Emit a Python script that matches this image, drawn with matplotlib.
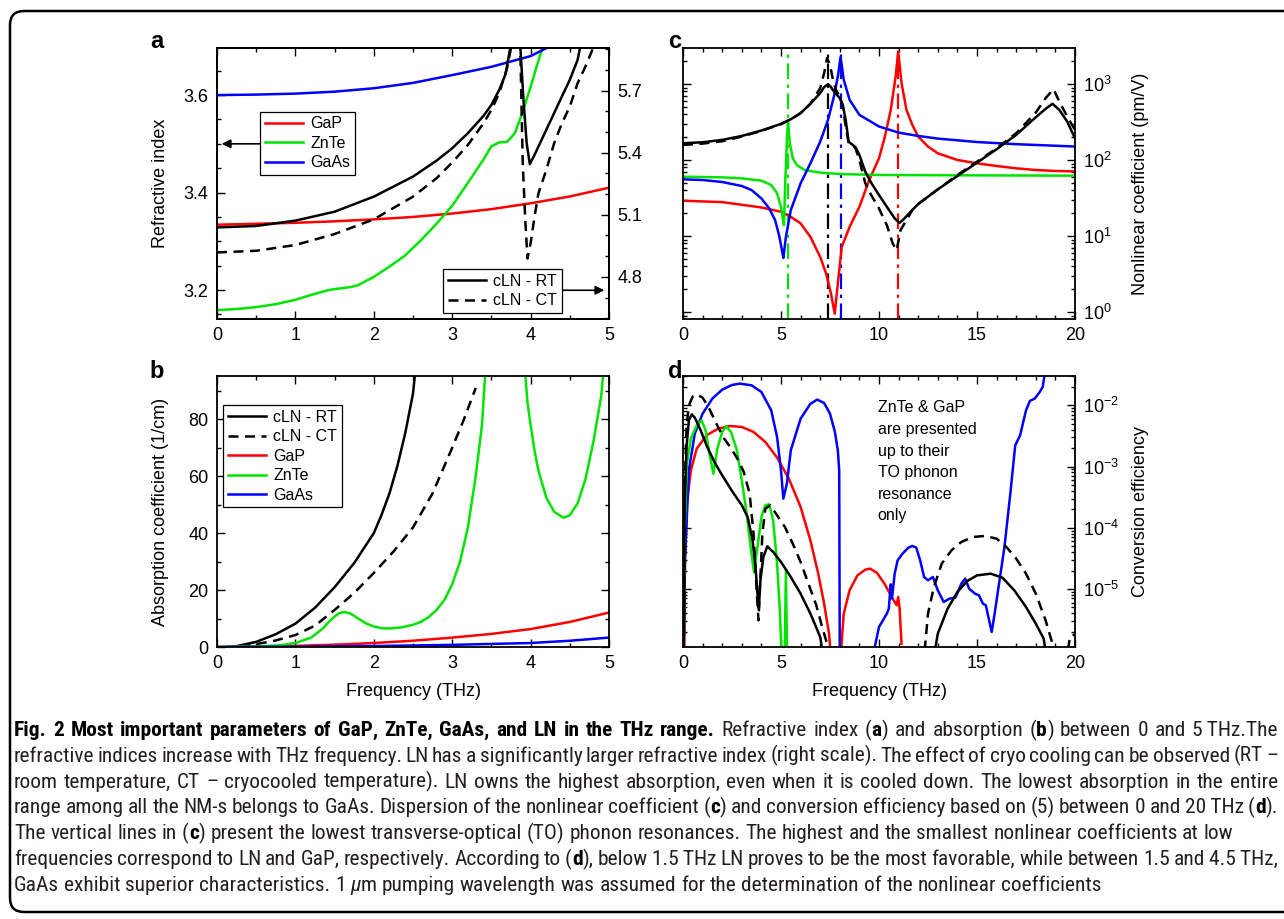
import matplotlib
matplotlib.use("Agg")
import matplotlib.pyplot as plt
from matplotlib.ticker import MultipleLocator, FormatStrFormatter
from matplotlib.patches import FancyBboxPatch
from matplotlib.transforms import IdentityTransform
from matplotlib.font_manager import FontProperties, fontManager, weight_dict

# ---------------------------------------------------------------- data
# (a) refractive index, 0-5 THz (left axis: GaP, ZnTe, GaAs; right axis: cLN)
GAP_A_X = [0, 0.5, 1, 1.5, 2, 2.5, 3, 3.5, 4, 4.5, 5]
GAP_A_Y = [3.334, 3.336, 3.338, 3.341, 3.345, 3.350, 3.357, 3.366, 3.378, 3.392, 3.410]
GAAS_A_X = [0, 0.5, 1, 1.5, 2, 2.5, 3, 3.5, 4, 4.21]
GAAS_A_Y = [3.600, 3.601, 3.603, 3.607, 3.614, 3.625, 3.641, 3.658, 3.680, 3.697]
ZNTE_A_X = [0, 0.25, 0.5, 0.75, 1, 1.2, 1.4, 1.5, 1.6, 1.7, 1.8, 2.0, 2.2, 2.4, 2.6, 2.8,
            3.0, 3.2, 3.4, 3.5, 3.6, 3.7, 3.8, 3.9, 4.0, 4.1, 4.15]
ZNTE_A_Y = [3.159, 3.161, 3.165, 3.171, 3.180, 3.190, 3.199, 3.202, 3.204, 3.206, 3.210,
            3.227, 3.248, 3.271, 3.302, 3.336, 3.373, 3.420, 3.468, 3.495, 3.503, 3.504,
            3.522, 3.566, 3.617, 3.671, 3.695]
LN_RT_A_X = [0, 0.5, 1, 1.5, 2, 2.5, 2.8, 3.0, 3.2, 3.4, 3.5, 3.6, 3.68, 3.74, 3.8, 3.84,
             3.87, 3.91, 3.95, 3.99, 4.05, 4.2, 4.4, 4.5, 4.6, 4.63, 4.66]
LN_RT_A_Y = [5.039, 5.046, 5.072, 5.115, 5.188, 5.285, 5.362, 5.422, 5.495, 5.579, 5.632,
             5.705, 5.780, 5.907, 6.050, 6.050, 5.907, 5.650, 5.446, 5.345, 5.390, 5.511,
             5.673, 5.753, 5.850, 5.907, 5.950]
LN_CT_A_X = [0, 0.5, 1, 1.5, 2, 2.5, 2.8, 3.0, 3.2, 3.4, 3.5, 3.6, 3.7, 3.75, 3.8, 3.86,
             3.9, 3.93, 3.96, 4.0, 4.05, 4.1, 4.2, 4.3, 4.4, 4.5, 4.6, 4.7, 4.78, 4.82]
LN_CT_A_Y = [4.918, 4.926, 4.954, 5.007, 5.078, 5.188, 5.277, 5.353, 5.438, 5.543, 5.608,
             5.689, 5.810, 5.907, 6.050, 6.050, 5.349, 5.090, 4.889, 4.962, 5.091, 5.204,
             5.317, 5.446, 5.543, 5.624, 5.737, 5.818, 5.891, 5.950]

# (b) absorption coefficient (1/cm), 0-5 THz
LN_RT_B_X = [0.13, 0.25, 0.5, 0.75, 1.0, 1.25, 1.5, 1.75, 2.0, 2.1, 2.2, 2.3, 2.4, 2.5, 2.53]
LN_RT_B_Y = [0, 0.3, 1.8, 4.5, 8.2, 13.8, 21.0, 29.5, 40.0, 46.5, 54.0, 63.5, 75.0, 89.0, 97.0]
LN_CT_B_X = [0.3, 0.5, 0.75, 1.0, 1.25, 1.5, 1.75, 2.0, 2.25, 2.5, 2.75, 3.0, 3.15, 3.3]
LN_CT_B_Y = [0.2, 1.0, 2.3, 4.2, 7.5, 13.0, 19.0, 26.0, 33.5, 42.0, 54.0, 70.0, 80.0, 91.0]
GAP_B_X = [0, 0.5, 1, 1.5, 2, 2.5, 3, 3.5, 4, 4.5, 5]
GAP_B_Y = [0, 0.15, 0.4, 0.8, 1.4, 2.2, 3.3, 4.6, 6.3, 8.8, 12.1]
GAAS_B_X = [0, 1, 2, 3, 4, 4.5, 5]
GAAS_B_Y = [0, 0.1, 0.35, 0.75, 1.4, 2.2, 3.3]
ZNTE_B_X = [0, 0.5, 0.8, 1.0, 1.2, 1.35, 1.45, 1.55, 1.62, 1.7, 1.8, 1.9, 2.0, 2.1, 2.2,
            2.35, 2.5, 2.6, 2.7, 2.8, 2.9, 3.0, 3.1, 3.2, 3.3, 3.38, 3.43, 3.92, 3.96, 4.0,
            4.05, 4.1, 4.2, 4.3, 4.42, 4.5, 4.6, 4.7, 4.8, 4.9, 4.94]
ZNTE_B_Y = [0, 0.2, 0.6, 1.4, 3.3, 6.5, 9.5, 11.8, 12.3, 11.8, 10.0, 8.3, 7.2, 6.6, 6.5,
            6.9, 7.8, 8.8, 10.5, 13.0, 16.5, 22, 30, 42, 60, 78, 100, 100, 86, 78,
            69, 62, 52.5, 47.5, 45.4, 46.3, 50.5, 59, 72, 88, 100]

# (c) nonlinear coefficient (pm/V), 0-20 THz
GAP_C_X = [0, 2, 4, 5, 5.5, 6, 6.5, 7, 7.3, 7.55, 7.74, 7.9, 8.1, 8.5, 9, 9.5, 10, 10.3,
           10.6, 10.85, 10.98, 11.15, 11.4, 11.7, 12, 12.5, 13, 14, 15, 16, 17, 18, 19, 20]
GAP_C_Y = [29.2, 28.0, 23.8, 20.9, 17.9, 14.7, 9.77, 5.32, 3.21, 1.75, 0.95, 2.37, 7.21,
           13.2, 24.3, 54.7, 105.6, 204, 459, 1264, 2702, 1032, 459, 291, 204, 150.6, 123,
           100.4, 90.7, 83.7, 77.9, 74.1, 72.0, 71.0]
GAAS_C_X = [0, 1, 2, 3, 3.5, 4, 4.4, 4.7, 4.9, 5.05, 5.12, 5.25, 5.5, 6, 6.5, 7, 7.4, 7.7,
            7.9, 8.04, 8.2, 8.5, 9, 10, 11, 12, 13, 15, 17, 20]
GAAS_C_Y = [55.8, 54.7, 51.5, 45.6, 40.3, 31.3, 23.1, 16.2, 10.3, 6.51, 5.16, 9.77, 22.0,
            49.4, 90.7, 175, 339, 688, 1264, 2274, 1142, 622, 394, 277, 230, 208, 192, 173,
            162, 151]
ZNTE_C_X = [0, 2, 3, 4, 4.5, 4.8, 5.0, 5.1, 5.15, 5.22, 5.3, 5.36, 5.45, 5.6, 5.8, 6.2, 7,
            8, 10, 15, 20]
ZNTE_C_Y = [60.5, 59.3, 57.5, 53.6, 47.0, 36.5, 24.3, 16.2, 13.9, 54.7, 184, 332, 167, 106,
            86.3, 74.1, 68.4, 65.6, 63.7, 63.0, 62.4]
LN_RT_C_X = [0, 1, 2, 3, 4, 5, 5.5, 6, 6.5, 7, 7.2, 7.4, 7.55, 7.7, 7.85, 8.0, 8.15, 8.3,
             8.45, 8.6, 8.8, 9.0, 9.3, 9.6, 10, 10.4, 10.8, 11.05, 11.3, 11.7, 12, 13, 14,
             15, 16, 17, 18, 18.5, 18.85, 19.2, 19.6, 20]
LN_RT_C_Y = [166.7, 171.8, 184.5, 208, 245, 300, 345, 415, 551, 762, 914, 1000, 914, 801,
             724, 654, 534, 339, 175, 163, 148, 117, 70.4, 50.4, 34.7, 24.3, 17.1, 14.9,
             17.1, 22.0, 26.4, 41.2, 61.8, 92.6, 139, 215, 367, 473, 551, 459, 322, 194]
LN_CT_C_X = [0, 1, 2, 3, 4, 5, 5.5, 6, 6.5, 7, 7.2, 7.35, 7.5, 7.65, 7.8, 8.0, 8.15, 8.3,
             8.45, 8.6, 8.8, 9.0, 9.3, 9.6, 10, 10.4, 10.7, 10.9, 11.1, 11.4, 11.7, 12, 13,
             14, 15, 16, 17, 18, 18.5, 18.9, 19.2, 19.6, 20]
LN_CT_C_Y = [158.4, 165, 177, 204, 242.5, 297, 345, 415, 551, 887, 1399, 2207, 1803, 1142,
             843, 688, 508, 277, 170, 163, 143, 100.4, 49.4, 34.7, 23.1, 13.9, 7.98, 6.51,
             12.0, 16.2, 22.0, 26.4, 41.2, 63.7, 95.4, 143, 226, 423, 654, 860, 591, 375, 250]
# lowest TO phonon resonances (THz): ZnTe, LN, GaAs, GaP
TO_X = [5.38, 7.41, 8.04, 10.98]

# (d) conversion efficiency, 0-20 THz
GAAS_D_X = [0.02, 0.1, 0.3, 0.6, 1.0, 1.5, 2.0, 2.5, 2.9, 3.5, 4.0, 4.5, 4.8, 5.0, 5.12,
            5.3, 5.5, 6.0, 6.5, 6.85, 7.2, 7.5, 7.75, 7.9, 7.97, 8.0,
            9.55, 10.0, 10.4, 10.5, 10.6, 10.66, 10.8, 10.95, 11.2, 11.5, 11.7, 11.9, 12.1,
            12.3, 12.5, 12.75, 13.0, 13.3, 13.6, 13.9, 14.2, 14.4, 14.6, 14.9, 15.1, 15.3,
            15.45, 15.6, 15.75, 15.9, 16.1, 16.4, 16.7, 16.95, 17.2, 17.5, 17.7, 17.95,
            18.2, 18.35, 18.5]
GAAS_D_Y = [5e-7, 2.94e-5, 8.67e-4, 3.44e-3, 7.31e-3, 1.29e-2, 1.80e-2, 2.15e-2, 2.26e-2,
            2.12e-2, 1.65e-2, 8.28e-3, 3.04e-3, 8.67e-4, 2.99e-4, 5.26e-4, 1.84e-3,
            6.05e-3, 1.06e-2, 1.24e-2, 1.09e-2, 7.31e-3, 3.67e-3, 1.84e-3, 8.67e-4, 5e-7,
            5e-7, 2.40e-6, 3.96e-6, 4.79e-6, 1.19e-5, 6.97e-6, 1.78e-5, 2.94e-5, 3.78e-5,
            4.74e-5, 5.05e-5, 4.74e-5, 2.94e-5, 1.57e-5, 1.39e-5, 1.57e-5, 9.53e-6,
            6.14e-6, 6.97e-6, 7.23e-6, 1.22e-5, 1.48e-5, 1.01e-5, 8.39e-6, 7.89e-6,
            5.77e-6, 5.42e-6, 3.28e-6, 1.99e-6, 3.96e-6, 1.08e-5, 4.85e-5, 3.61e-4,
            2.22e-3, 3.24e-3, 8.28e-3, 1.18e-2, 1.29e-2, 1.65e-2, 1.99e-2, 4e-2]
GAP_D_X = [0.05, 0.1, 0.2, 0.4, 0.7, 1.2, 1.8, 2.4, 3.0, 3.6, 4.2, 4.8, 5.4, 6.0, 6.5, 6.9,
           7.2, 7.45, 7.6, 8.0, 8.2, 8.5, 8.9, 9.3, 9.55, 9.9, 10.3, 10.6, 10.8, 10.9,
           10.98, 11.05, 11.15]
GAP_D_Y = [5e-7, 2.94e-5, 2.48e-4, 8.67e-4, 1.96e-3, 3.24e-3, 4.16e-3, 4.59e-3, 4.43e-3,
           3.67e-3, 2.52e-3, 1.40e-3, 6.34e-4, 2.19e-4, 6.24e-5, 1.78e-5, 5.77e-6,
           1.87e-6, 5e-7, 5e-7, 3.96e-6, 9.53e-6, 1.67e-5, 2.07e-5, 2.15e-5, 1.83e-5,
           1.19e-5, 7.89e-6, 6.14e-6, 5.42e-6, 7.41e-6, 4.79e-6, 1.28e-6]
ZNTE_D_X = [0.03, 0.08, 0.2, 0.4, 0.7, 0.95, 1.15, 1.35, 1.55, 1.75, 2.0, 2.2, 2.45, 2.75,
            3.0, 3.25, 3.45, 3.62, 3.8, 4.0, 4.2, 4.4, 4.6, 4.8, 4.95, 5.05, 5.18, 5.25, 5.32]
ZNTE_D_Y = [5e-7, 8.02e-5, 1.11e-3, 2.86e-3, 4.71e-3, 5.69e-3, 3.91e-3, 1.63e-3, 7.66e-4,
            1.96e-3, 3.67e-3, 4.54e-3, 3.67e-3, 1.84e-3, 5.96e-4, 1.70e-4, 4.85e-5,
            1.90e-5, 4.85e-5, 1.50e-4, 2.33e-4, 2.42e-4, 1.32e-4, 2.59e-5, 3.96e-6, 5e-7,
            5e-7, 2.02e-5, 5e-7]
LN_RT_D_X = [0.04, 0.08, 0.18, 0.3, 0.45, 0.6, 0.9, 1.2, 1.6, 2.0, 2.5, 3.0, 3.3, 3.55,
             3.7, 3.8, 3.87, 3.95, 4.1, 4.3, 4.6, 5.0, 5.5, 6.0, 6.5, 7.0, 7.25, 12.7, 13.0,
             13.5, 14.0, 14.5, 15.0, 15.7, 16.3, 16.9, 17.5, 18.0, 18.4, 18.65]
LN_RT_D_Y = [5e-7, 1.93e-4, 2.09e-3, 5.69e-3, 7.13e-3, 6.30e-3, 3.91e-3, 2.22e-3, 1.19e-3,
             7.19e-4, 3.99e-4, 2.33e-4, 1.50e-4, 6.24e-5, 2.29e-5, 8.39e-6, 4.78e-6,
             1.39e-5, 3.33e-5, 4.98e-5, 4.03e-5, 2.76e-5, 1.57e-5, 8.39e-6, 3.96e-6,
             1.65e-6, 5e-7, 5e-7, 1.87e-6, 4.78e-6, 8.95e-6, 1.35e-5, 1.67e-5, 1.78e-5,
             1.53e-5, 9.53e-6, 5.09e-6, 2.72e-6, 1.55e-6, 5e-7]
LN_CT_D_X = [0.04, 0.08, 0.18, 0.3, 0.5, 0.72, 1.0, 1.3, 1.7, 2.1, 2.5, 2.8, 3.1, 3.4, 3.6,
             3.75, 3.85, 3.95, 4.05, 4.2, 4.45, 4.8, 5.2, 5.6, 6.0, 6.4, 6.8, 7.1, 7.35,
             7.5, 12.25, 12.5, 12.8, 13.2, 13.7, 14.2, 14.8, 15.4, 16.0, 16.5, 17.0, 17.5,
             18.0, 18.5, 18.85, 19.0, 19.5, 19.75, 20.0]
LN_CT_D_Y = [5e-7, 3.61e-4, 4.43e-3, 1.00e-2, 1.40e-2, 1.51e-2, 1.33e-2, 9.40e-3, 5.02e-3,
             2.86e-3, 1.89e-3, 1.30e-3, 8.15e-4, 3.61e-4, 8.02e-5, 1.08e-5, 3.08e-6,
             1.57e-5, 8.02e-5, 2.05e-4, 2.33e-4, 1.60e-4, 1.03e-4, 5.51e-5, 2.76e-5,
             1.22e-5, 5.42e-6, 2.40e-6, 1.28e-6, 5e-7, 5e-7, 3.96e-6, 1.08e-5, 2.59e-5,
             4.29e-5, 5.86e-5, 7.08e-5, 7.35e-5, 6.65e-5, 4.85e-5, 3.13e-5, 1.78e-5,
             8.39e-6, 3.08e-6, 1.28e-6, 5e-7, 5e-7, 1.70e-6, 1.82e-6]

LABELS_A_LEFT = ['GaP', 'ZnTe', 'GaAs']
LABELS_LN = ['cLN - RT', 'cLN - CT']
NOTE_D = 'ZnTe & GaP\nare presented\nup to their\nTO phonon\nresonance\nonly'

# caption: each line is a list of (text, style) with style n=normal, b=bold, i=italic
CAPTION = [
    [("Fig. 2 Most important parameters of GaP, ZnTe, GaAs, and LN in the THz range.", "b"),
     (" Refractive index (", "n"), ("a", "b"), (") and absorption (", "n"), ("b", "b"),
     (") between 0 and 5\u2009THz.The", "n")],
    [("refractive indices increase with THz frequency. LN has a significantly larger refractive "
      "index (right scale). The effect of cryo cooling can be observed (RT \u2013", "n")],
    [("room temperature, CT \u2013 cryocooled temperature). LN owns the highest absorption, even "
      "when it is cooled down. The lowest absorption in the entire", "n")],
    [("range among all the NM-s belongs to GaAs. Dispersion of the nonlinear coefficient (", "n"),
     ("c", "b"), (") and conversion efficiency based on (5) between 0 and 20\u2009THz (", "n"),
     ("d", "b"), (").", "n")],
    [("The vertical lines in (", "n"), ("c", "b"),
     (") present the lowest transverse-optical (TO) phonon resonances. The highest and the "
      "smallest nonlinear coefficients at low", "n")],
    [("frequencies correspond to LN and GaP, respectively. According to (", "n"), ("d", "b"),
     ("), below 1.5\u2009THz LN proves to be the most favorable, while between 1.5 and "
      "4.5\u2009THz,", "n")],
    [("GaAs exhibit superior characteristics. 1 ", "n"), ("\u00b5", "i"),
     ("m pumping wavelength was assumed for the determination of the nonlinear coefficients", "n")],
]
CAPTION_JUSTIFY = [True, True, True, True, False, True, False]

# ---------------------------------------------------------------- style
W, H, DPI = 1284, 919, 100
RED, GREEN, BLUE, BLACK = '#ff0000', '#00e400', '#0000ff', '#000000'
LW = 1.8
CT_DASH = (4, 2.6)
TICK_FS = 13
LABEL_FS = 13

plt.rcParams['font.family'] = ['Liberation Sans', 'DejaVu Sans']
plt.rcParams['mathtext.fontset'] = 'custom'
plt.rcParams['mathtext.rm'] = 'Liberation Sans'
plt.rcParams['mathtext.it'] = 'Liberation Sans:italic'
plt.rcParams['mathtext.bf'] = 'Liberation Sans:bold'

fig = plt.figure(figsize=(W / DPI, H / DPI), dpi=DPI)
fig.patch.set_facecolor('white')


def axes_px(x0, y0, x1, y1):
    return fig.add_axes([x0 / W, 1 - y1 / H, (x1 - x0) / W, (y1 - y0) / H])


def style_axis(ax, **kw):
    ax.tick_params(which='both', direction='in', top=True, right=True,
                   labelsize=TICK_FS, width=1.0, pad=6, **kw)
    ax.tick_params(which='major', length=5.5)
    ax.tick_params(which='minor', length=3)
    for sp in ax.spines.values():
        sp.set_linewidth(1.3)


LEG = dict(fontsize=11.5, frameon=True, fancybox=False, edgecolor='black', framealpha=1,
           borderaxespad=0, handlelength=2.4, handletextpad=0.45, labelspacing=0.28,
           borderpad=0.3, loc='upper left')
ARROW = dict(arrowstyle='-|>', color='black', lw=1.2, mutation_scale=13, shrinkA=0, shrinkB=0)

# ---------------------------------------------------------------- (a)
ax_a = axes_px(217, 48, 609, 319)
style_axis(ax_a)
ax_a.tick_params(which='both', right=False)
h_gap, = ax_a.plot(GAP_A_X, GAP_A_Y, color=RED, lw=LW)
h_znte, = ax_a.plot(ZNTE_A_X, ZNTE_A_Y, color=GREEN, lw=LW)
h_gaas, = ax_a.plot(GAAS_A_X, GAAS_A_Y, color=BLUE, lw=LW)
ax_a.set_xlim(0, 5)
ax_a.set_ylim(3.1406, 3.6966)
ax_a.xaxis.set_major_locator(MultipleLocator(1))
ax_a.xaxis.set_minor_locator(MultipleLocator(0.5))
ax_a.yaxis.set_major_locator(MultipleLocator(0.2))
ax_a.yaxis.set_minor_locator(MultipleLocator(0.05))
ax_a.yaxis.set_major_formatter(FormatStrFormatter('%.1f'))

ax_a2 = ax_a.twinx()
ax_a2.tick_params(which='both', direction='in', left=False, right=True, labelright=True,
                  labelsize=TICK_FS, width=1.0, pad=6)
ax_a2.tick_params(which='major', length=5.5)
ax_a2.tick_params(which='minor', length=3)
for sp in ax_a2.spines.values():
    sp.set_linewidth(1.3)
h_rt, = ax_a2.plot(LN_RT_A_X, LN_RT_A_Y, color=BLACK, lw=LW)
h_ct, = ax_a2.plot(LN_CT_A_X, LN_CT_A_Y, color=BLACK, lw=LW, dashes=CT_DASH)
ax_a2.set_ylim(4.596, 5.907)
ax_a2.yaxis.set_major_locator(MultipleLocator(0.3))
ax_a2.yaxis.set_minor_locator(MultipleLocator(0.1))
ax_a2.yaxis.set_major_formatter(FormatStrFormatter('%.1f'))

leg1 = ax_a2.legend([h_gap, h_znte, h_gaas], LABELS_A_LEFT, bbox_to_anchor=(0.1097, 0.765), **LEG)
leg1.get_frame().set_linewidth(0.9)
ax_a2.add_artist(leg1)
leg2 = ax_a2.legend([h_rt, h_ct], LABELS_LN, bbox_to_anchor=(0.5765, 0.1845), **LEG)
leg2.get_frame().set_linewidth(0.9)
ax_a.annotate('', xy=(0.06, 3.5), xytext=(0.55, 3.5), arrowprops=ARROW)
ax_a2.annotate('', xy=(4.94, 4.735), xytext=(4.37, 4.735), arrowprops=ARROW)
ax_a.text(-0.1454, 0.5, 'Refractive index', transform=ax_a.transAxes, rotation=90,
          ha='center', va='center', rotation_mode='anchor', fontsize=LABEL_FS)

# ---------------------------------------------------------------- (b)
ax_b = axes_px(217, 376, 609, 647)
style_axis(ax_b)
b_rt, = ax_b.plot(LN_RT_B_X, LN_RT_B_Y, color=BLACK, lw=LW)
b_ct, = ax_b.plot(LN_CT_B_X, LN_CT_B_Y, color=BLACK, lw=LW, dashes=CT_DASH)
b_gap, = ax_b.plot(GAP_B_X, GAP_B_Y, color=RED, lw=LW)
b_znte, = ax_b.plot(ZNTE_B_X, ZNTE_B_Y, color=GREEN, lw=LW)
b_gaas, = ax_b.plot(GAAS_B_X, GAAS_B_Y, color=BLUE, lw=LW)
ax_b.set_xlim(0, 5)
ax_b.set_ylim(0, 95.2)
ax_b.xaxis.set_major_locator(MultipleLocator(1))
ax_b.xaxis.set_minor_locator(MultipleLocator(0.5))
ax_b.yaxis.set_major_locator(MultipleLocator(20))
ax_b.yaxis.set_minor_locator(MultipleLocator(10))
legb = ax_b.legend([b_rt, b_ct, b_gap, b_znte, b_gaas], LABELS_LN + LABELS_A_LEFT,
                   bbox_to_anchor=(0.0153, 0.893), **LEG)
legb.get_frame().set_linewidth(0.9)
ax_b.text(-0.1454, 0.5, 'Absorption coefficient (1/cm)', transform=ax_b.transAxes,
          rotation=90, ha='center', va='center', rotation_mode='anchor', fontsize=LABEL_FS)
ax_b.text(0.5, -0.166, 'Frequency (THz)', transform=ax_b.transAxes, ha='center',
          va='center', fontsize=LABEL_FS)

# ---------------------------------------------------------------- (c)
ax_c = axes_px(683, 48, 1075, 319)
style_axis(ax_c, labelleft=False, labelright=True)
for xv, col in zip(TO_X, [GREEN, BLACK, BLUE, RED]):
    ax_c.axvline(xv, color=col, lw=1.6, ls=(0, (7, 2.5, 1.5, 2.5)))
ax_c.plot(GAP_C_X, GAP_C_Y, color=RED, lw=LW)
ax_c.plot(ZNTE_C_X, ZNTE_C_Y, color=GREEN, lw=LW)
ax_c.plot(GAAS_C_X, GAAS_C_Y, color=BLUE, lw=LW)
ax_c.plot(LN_CT_C_X, LN_CT_C_Y, color=BLACK, lw=LW, dashes=CT_DASH)
ax_c.plot(LN_RT_C_X, LN_RT_C_Y, color=BLACK, lw=LW)
ax_c.set_yscale('log')
ax_c.set_xlim(0, 20)
ax_c.set_ylim(0.81, 2990)
ax_c.xaxis.set_major_locator(MultipleLocator(5))
ax_c.xaxis.set_minor_locator(MultipleLocator(1))
ax_c.text(1.166, 0.5, 'Nonlinear coefficient (pm/V)', transform=ax_c.transAxes, rotation=90,
          ha='center', va='center', rotation_mode='anchor', fontsize=LABEL_FS)

# ---------------------------------------------------------------- (d)
ax_d = axes_px(683, 376, 1075, 647)
style_axis(ax_d, labelleft=False, labelright=True)
ax_d.plot(GAP_D_X, GAP_D_Y, color=RED, lw=LW)
ax_d.plot(GAAS_D_X, GAAS_D_Y, color=BLUE, lw=LW)
ax_d.plot(ZNTE_D_X, ZNTE_D_Y, color=GREEN, lw=LW)
ax_d.plot(LN_CT_D_X, LN_CT_D_Y, color=BLACK, lw=LW, dashes=CT_DASH)
ax_d.plot(LN_RT_D_X, LN_RT_D_Y, color=BLACK, lw=LW)
ax_d.set_yscale('log')
ax_d.set_xlim(0, 20)
ax_d.set_ylim(1.13e-6, 0.0301)
ax_d.xaxis.set_major_locator(MultipleLocator(5))
ax_d.xaxis.set_minor_locator(MultipleLocator(1))
ax_d.text(0.497, 0.91, NOTE_D, transform=ax_d.transAxes, ha='left', va='top',
          fontsize=11.5, linespacing=1.55)
ax_d.text(1.166, 0.5, 'Conversion efficiency', transform=ax_d.transAxes, rotation=90,
          ha='center', va='center', rotation_mode='anchor', fontsize=LABEL_FS)
ax_d.text(0.5, -0.166, 'Frequency (THz)', transform=ax_d.transAxes, ha='center',
          va='center', fontsize=LABEL_FS)

# panel letters
for letter, (px, py) in zip('abcd', [(157, 42), (157, 372), (675, 42), (675, 372)]):
    fig.text(px / W, 1 - py / H, letter, ha='center', va='center', fontsize=17,
             fontweight='bold')

# rounded frame around the figure
frame = FancyBboxPatch((10, 7), 1300, 901, boxstyle='round,pad=0,rounding_size=14',
                       transform=IdentityTransform(), fill=False, lw=1.8, ec='black')
fig.add_artist(frame)

# ---------------------------------------------------------------- caption
def _weight_num(w):
    return w if isinstance(w, (int, float)) else weight_dict.get(str(w).lower(), 400)


def _has_face(name, lo, hi):
    return any(f.name == name and lo <= _weight_num(f.weight) <= hi
               for f in fontManager.ttflist)


# (regular family, bold family) pairs, narrowest first
FONT_PAIRS = [('Liberation Sans Narrow', 'Liberation Sans Narrow'),
              ('Open Sans Condensed Light', 'Open Sans Condensed'),
              ('Roboto Condensed', 'Roboto Condensed'),
              ('Open Sans Condensed', 'Open Sans Condensed'),
              ('Lato', 'Lato'),
              ('Liberation Sans', 'Liberation Sans')]
cap_regular, cap_bold = next(((r, b) for r, b in FONT_PAIRS
                              if _has_face(r, 100, 450) and _has_face(b, 600, 900)),
                             ('Liberation Sans', 'Liberation Sans'))
renderer = fig.canvas.get_renderer()


def cap_font(style, size):
    if style == 'b':
        return FontProperties(family=[cap_bold, 'DejaVu Sans'], size=size, weight='bold')
    return FontProperties(family=[cap_regular, 'DejaVu Sans'], size=size, weight='normal',
                          style='italic' if style == 'i' else 'normal')


def text_w(s, style, size):
    return renderer.get_text_width_height_descent(s, cap_font(style, size), ismath=False)[0]


def split_words(chunks):
    words = [[]]
    for text, st in chunks:
        for i, part in enumerate(text.split(' ')):
            if i > 0:
                words.append([])
            if part:
                words[-1].append((part, st))
    return [w for w in words if w]


def line_layout(chunks, size):
    words = split_words(chunks)
    widths = [sum(text_w(p, st, size) for p, st in w) for w in words]
    space = text_w('x x', 'n', size) - text_w('xx', 'n', size)
    return words, widths, space


CAP_LEFT, CAP_RIGHT = 14, 1278
CAP_Y0, CAP_DY = 731, 25.8
ref_size = 12
w5, wid5, sp5 = line_layout(CAPTION[4], ref_size)
cap_size = ref_size * 1221 / (sum(wid5) + sp5 * (len(wid5) - 1))

for k, (chunks, just) in enumerate(zip(CAPTION, CAPTION_JUSTIFY)):
    words, widths, space = line_layout(chunks, cap_size)
    gap = (CAP_RIGHT - CAP_LEFT - sum(widths)) / (len(words) - 1) if just else space
    x = CAP_LEFT
    yb = CAP_Y0 + k * CAP_DY + 5
    for w, ww in zip(words, widths):
        xx = x
        for part, st in w:
            fig.text(xx / W, 1 - yb / H, part, fontproperties=cap_font(st, cap_size),
                     color='black' if st == 'b' else '#231f20', ha='left', va='baseline')
            xx += text_w(part, st, cap_size)
        x += ww + gap

fig.savefig('out.png', dpi=DPI, facecolor='white')
